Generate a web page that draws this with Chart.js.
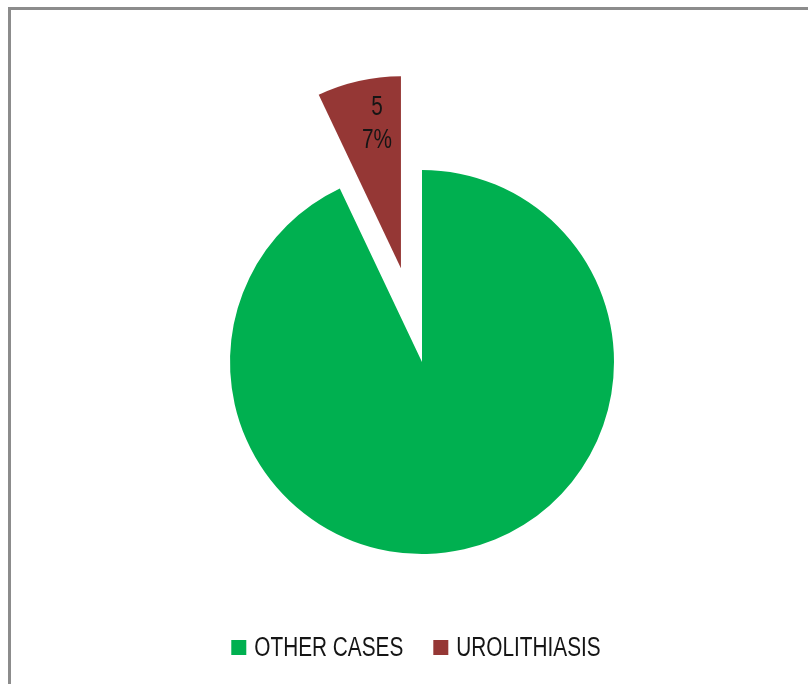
<!DOCTYPE html>
<html>
<head>
<meta charset="utf-8">
<script src="https://cdn.jsdelivr.net/npm/chart.js@4"></script>
<style>
  html, body { margin: 0; padding: 0; background: #fff; overflow: hidden; }
  #frame {
    position: absolute; left: 8px; top: 7px; width: 900px; height: 800px;
    border-left: 3px solid #8c8c8c; border-top: 3px solid #8c8c8c;
  }
  #wrap { position: absolute; left: 0; top: 0; width: 808px; height: 684px; }
</style>
</head>
<body>
<div id="frame"></div>
<div id="wrap"><canvas id="pieChart"></canvas></div>
<script>
const categories = ['OTHER CASES', 'UROLITHIASIS'];
const caseCounts = [66, 5];
const sliceColors = ['#00b050', '#953735'];

// how far each slice is pulled away from the centre, px
const pullOut = [0, 96];

const FONT_FAMILY = '"Liberation Sans", Arial, sans-serif';
const FONT_SIZE = 27;
const SQUEEZE = 0.77; // narrow look for the text

function narrowText(ctx, text, x, y, align) {
    const w = ctx.measureText(text).width * SQUEEZE;
    let left = x;
    if (align === 'center') left = x - w / 2;
    ctx.save();
    ctx.translate(left, y);
    ctx.scale(SQUEEZE, 1);
    ctx.textAlign = 'left';
    ctx.fillText(text, 0, 0);
    ctx.restore();
    return w;
}

// moves exploded arcs before drawing and puts the value label on them
const explodeSlices = {
    id: 'explodeSlices',
    beforeDatasetsDraw(chart) {
        const meta = chart.getDatasetMeta(0);
        meta.data.forEach((arc, i) => {
            if (!pullOut[i]) return;
            const mid = (arc.startAngle + arc.endAngle) / 2;
            arc._home = { x: arc.x, y: arc.y };
            arc.x += Math.cos(mid) * pullOut[i];
            arc.y += Math.sin(mid) * pullOut[i];
        });
    },
    afterDatasetsDraw(chart) {
        const ctx = chart.ctx;
        const meta = chart.getDatasetMeta(0);
        const total = caseCounts.reduce((a, b) => a + b, 0);
        meta.data.forEach((arc, i) => {
            if (!pullOut[i]) return;
            const a = arc.startAngle + 0.63 * (arc.endAngle - arc.startAngle);
            const r = arc.outerRadius * 0.765;
            const x = arc.x + Math.cos(a) * r;
            const y = arc.y + Math.sin(a) * r;
            const pct = Math.round(caseCounts[i] / total * 100) + '%';
            ctx.save();
            ctx.fillStyle = '#151515';
            ctx.font = FONT_SIZE + 'px ' + FONT_FAMILY;
            ctx.textBaseline = 'middle';
            narrowText(ctx, String(caseCounts[i]), x, y - 16, 'center');
            narrowText(ctx, pct, x, y + 17, 'center');
            ctx.restore();
            arc.x = arc._home.x;
            arc.y = arc._home.y;
        });
    }
};

// legend row under the pie: colour square + narrow label
const bottomLegend = {
    id: 'bottomLegend',
    afterDraw(chart) {
        const ctx = chart.ctx;
        const labels = chart.data.labels;
        const colors = chart.data.datasets[0].backgroundColor;
        const box = 15, gap = 8, itemGap = 30;
        const baseline = 656;
        ctx.save();
        ctx.font = FONT_SIZE + 'px ' + FONT_FAMILY;
        ctx.textBaseline = 'alphabetic';
        const widths = labels.map(t => ctx.measureText(t).width * SQUEEZE);
        const total = widths.reduce((s, w) => s + box + gap + w, 0) + itemGap * (labels.length - 1);
        let x = 416 - total / 2;
        labels.forEach((t, i) => {
            ctx.fillStyle = colors[i];
            ctx.fillRect(x, baseline - 16, box, box);
            x += box + gap;
            ctx.fillStyle = '#151515';
            narrowText(ctx, t, x, baseline, 'left');
            x += widths[i] + itemGap;
        });
        ctx.restore();
    }
};

const ctx = document.getElementById('pieChart').getContext('2d');
new Chart(ctx, {
    type: 'pie',
    data: {
        labels: categories,
        datasets: [{
            data: caseCounts,
            backgroundColor: sliceColors,
            borderWidth: 0,
            radius: 192,
        }],
    },
    options: {
        responsive: true,
        maintainAspectRatio: false,
        animation: false,
        layout: { padding: { top: 122, left: 182, right: 146, bottom: 82 } },
        plugins: {
            tooltip: { enabled: false },
            legend: { display: false },
        },
    },
    plugins: [explodeSlices, bottomLegend],
});
</script>
</body>
</html>
